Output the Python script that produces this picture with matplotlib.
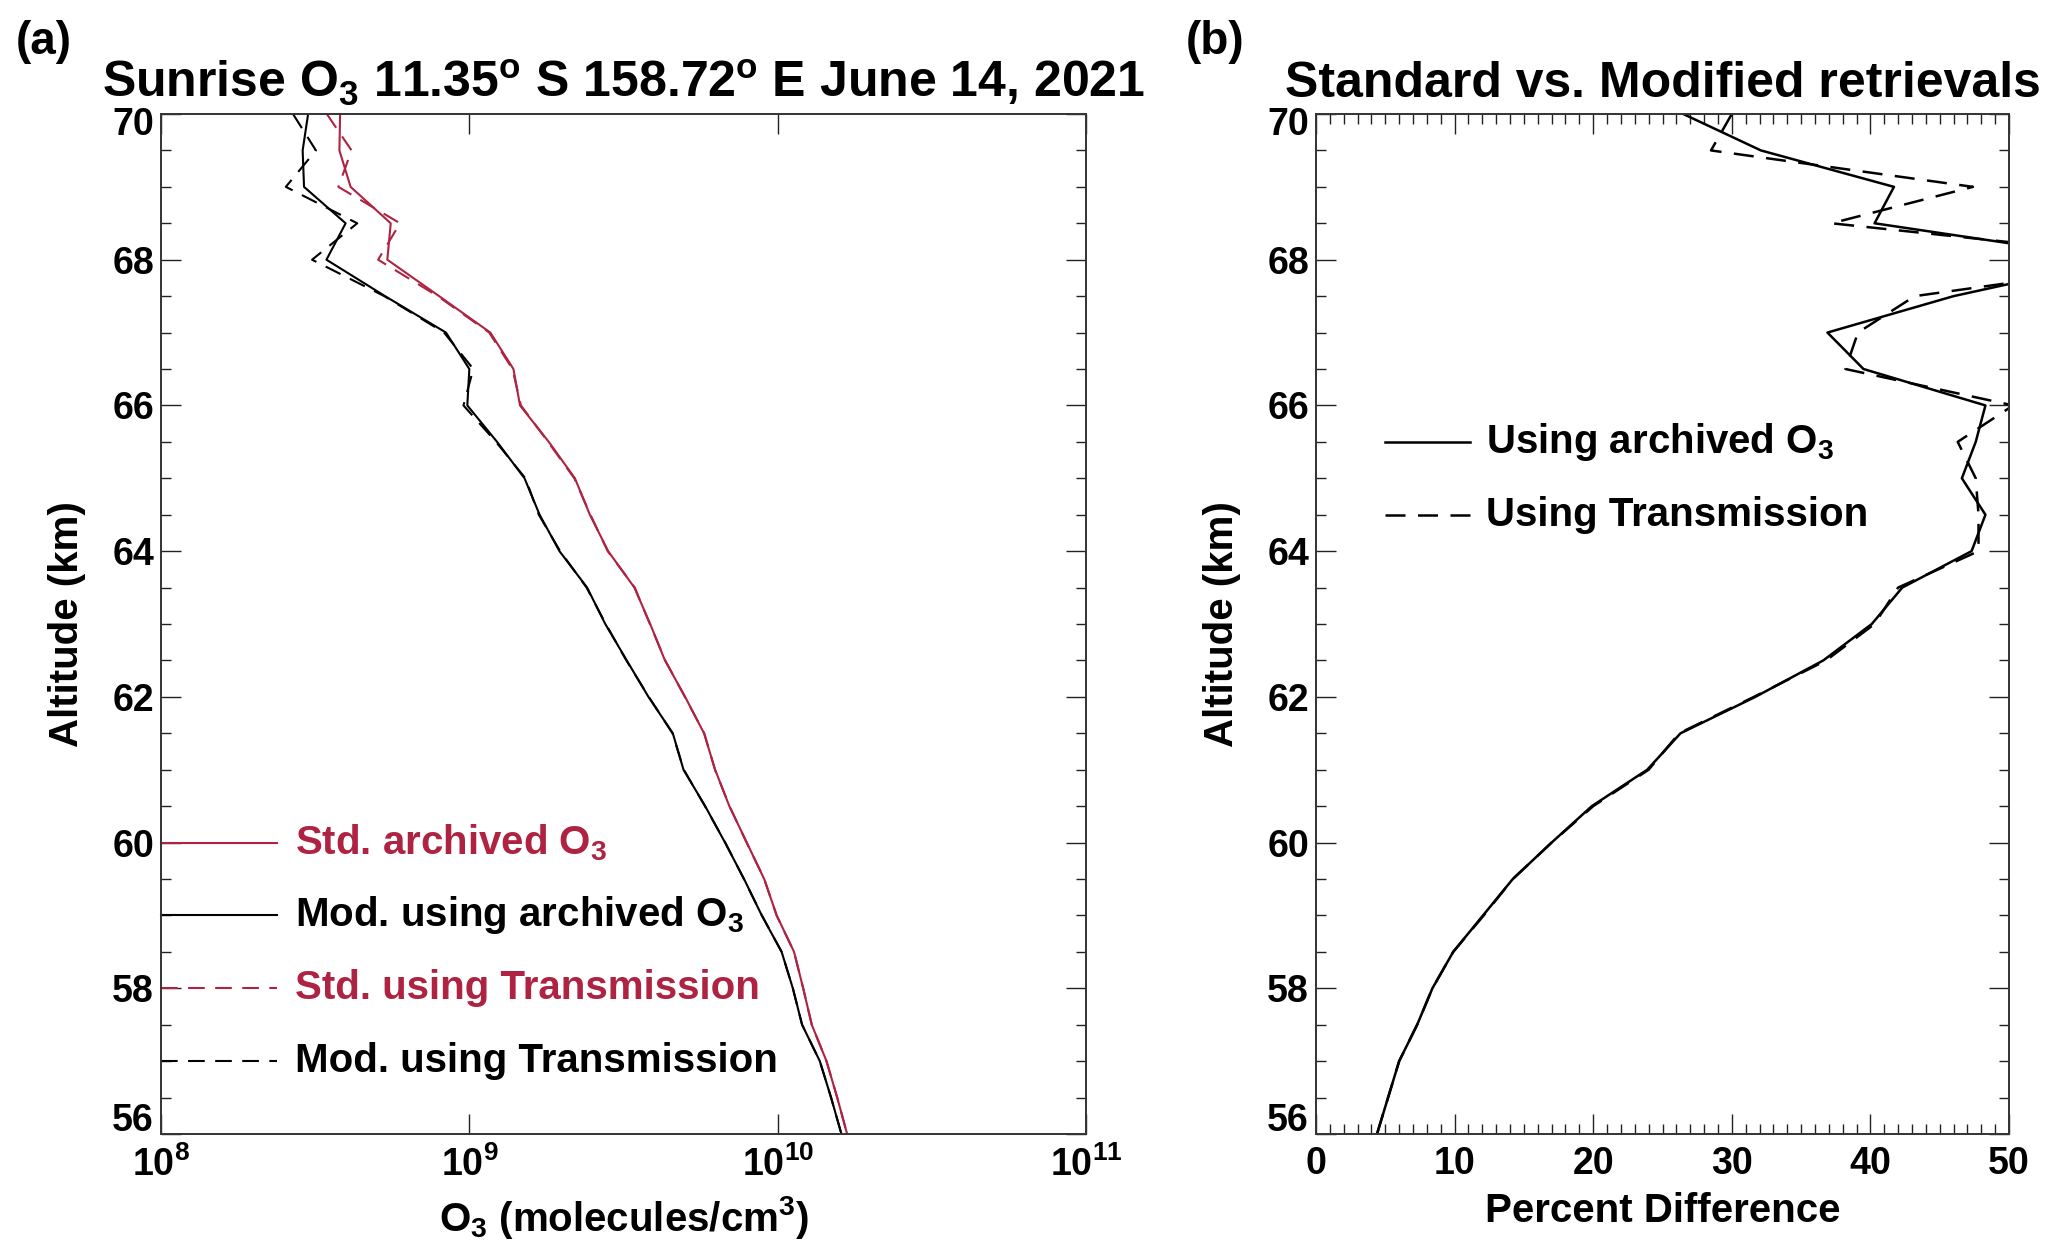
import matplotlib
matplotlib.use("Agg")
import matplotlib.pyplot as plt
import matplotlib.transforms as mtransforms
from matplotlib.ticker import MultipleLocator, FixedLocator, NullLocator, LogFormatterSciNotation

plt.rcParams['font.family'] = ['Liberation Sans', 'DejaVu Sans']
plt.rcParams['font.weight'] = 'bold'
plt.rcParams['axes.titleweight'] = 'bold'
plt.rcParams['axes.labelweight'] = 'bold'
plt.rcParams['mathtext.fontset'] = 'custom'
plt.rcParams['mathtext.rm'] = 'Liberation Sans:bold'
plt.rcParams['mathtext.it'] = 'Liberation Sans:bold'
plt.rcParams['mathtext.bf'] = 'Liberation Sans:bold'

RED = '#ae2242'

# altitude grid (km), top to bottom
alt = [70.0, 69.5, 69.0, 68.5, 68.0, 67.5, 67.0, 66.5, 66.0, 65.5,
       65.0, 64.5, 64.0, 63.5, 63.0, 62.5, 62.0, 61.5, 61.0, 60.5,
       60.0, 59.5, 59.0, 58.5, 58.0, 57.5, 57.0, 56.5, 56.0]
alt_ticks = [56, 58, 60, 62, 64, 66, 68, 70]

# O3 number density, units of 1e9 molecules/cm^3
std_archived = [0.381, 0.379, 0.412, 0.556, 0.542, 0.798, 1.17, 1.39, 1.46, 1.81,
                2.20, 2.46, 2.82, 3.43, 3.86, 4.31, 5.01, 5.77, 6.27, 6.97,
                7.94, 9.04, 9.93, 11.3, 12.1, 12.9, 14.4, 15.6, 16.8]
mod_archived = [0.300, 0.288, 0.291, 0.397, 0.344, 0.533, 0.840, 1.00, 0.985, 1.23,
                1.51, 1.69, 1.96, 2.41, 2.76, 3.24, 3.81, 4.57, 4.95, 5.82,
                6.75, 7.78, 8.88, 10.3, 11.2, 12.0, 13.7, 14.9, 16.1]
std_trans = [0.345, 0.415, 0.376, 0.596, 0.506, 0.790, 1.16, 1.38, 1.47, 1.80,
             2.19, 2.47, 2.81, 3.44, 3.85, 4.32, 5.00, 5.78, 6.26, 6.98,
             7.93, 9.05, 9.92, 11.3, 12.1, 12.9, 14.4, 15.6, 16.8]
mod_trans = [0.268, 0.318, 0.254, 0.433, 0.309, 0.530, 0.828, 1.03, 0.957, 1.22,
             1.52, 1.68, 1.97, 2.40, 2.77, 3.23, 3.82, 4.56, 4.96, 5.81,
             6.76, 7.77, 8.89, 10.3, 11.2, 12.0, 13.7, 14.9, 16.1]

# percent difference standard vs modified
pct_archived = [26.5, 32.1, 41.7, 40.3, 58.0, 46.0, 36.9, 39.5, 48.3, 47.6,
                46.6, 48.3, 47.3, 42.3, 40.1, 36.6, 31.7, 26.3, 23.9, 19.9,
                17.0, 14.2, 12.05, 9.9, 8.4, 7.3, 6.0, 5.2, 4.4]
pct_trans = [30.0, 28.5, 47.4, 37.2, 62.0, 43.2, 39.1, 38.2, 50.3, 46.3,
             47.6, 47.8, 47.8, 42.0, 40.3, 36.8, 31.6, 26.2, 24.0, 20.0,
             17.0, 14.2, 12.1, 9.9, 8.4, 7.3, 6.0, 5.2, 4.4]

legend_a = ['Std. archived O$_3$', 'Mod. using archived O$_3$',
            'Std. using Transmission', 'Mod. using Transmission']
legend_b = ['Using archived O$_3$', 'Using Transmission']

W, H = 2067, 1256
fig = plt.figure(figsize=(W / 100, H / 100), dpi=100)
ax1 = fig.add_axes([161 / W, 122 / H, 925 / W, 1020 / H])
ax2 = fig.add_axes([1316 / W, 122 / H, 693 / W, 1020 / H])

DASH = (0, (8, 5))
TICK = dict(direction='in', width=1.0, labelsize=27, colors='#222222')


def style_axes(ax):
    for s in ax.spines.values():
        s.set_linewidth(1.4)
        s.set_color('#333333')
    ax.tick_params(which='major', length=14.4, **TICK)
    ax.tick_params(which='minor', length=7.2, **TICK)
    ax.tick_params(which='both', top=True, right=True, labelcolor='black')
    ax.tick_params(axis='y', pad=5)
    ax.tick_params(axis='x', pad=9)
    ax.set_ylim(56, 70)
    ax.yaxis.set_major_locator(FixedLocator(alt_ticks))
    ax.yaxis.set_minor_locator(MultipleLocator(0.5))
    ax.set_ylabel('Altitude (km)', fontsize=29, labelpad=19)
    # IDL-like: end labels pulled inside the axis range
    ticks = ax.yaxis.get_major_ticks(len(alt_ticks))
    up = mtransforms.ScaledTranslation(0, 12 / 72, fig.dpi_scale_trans)
    down = mtransforms.ScaledTranslation(0, -5 / 72, fig.dpi_scale_trans)
    ticks[0].label1.set_transform(ticks[0].label1.get_transform() + up)
    ticks[-1].label1.set_transform(ticks[-1].label1.get_transform() + down)


# ---- panel (a) ----
x_std = [v * 1e9 for v in std_archived]
x_mod = [v * 1e9 for v in mod_archived]
x_std_t = [v * 1e9 for v in std_trans]
x_mod_t = [v * 1e9 for v in mod_trans]
ax1.plot(x_std, alt, color=RED, lw=1.5)
ax1.plot(x_mod, alt, color='black', lw=1.5)
ax1.plot(x_std_t, alt, color=RED, lw=1.5, ls=DASH)
ax1.plot(x_mod_t, alt, color='black', lw=1.5, ls=DASH)
ax1.set_xscale('log')
ax1.set_xlim(1e8, 1e11)
ax1.xaxis.set_major_locator(FixedLocator([1e8, 1e9, 1e10, 1e11]))
ax1.xaxis.set_minor_locator(NullLocator())
ax1.xaxis.set_major_formatter(LogFormatterSciNotation())
style_axes(ax1)
ax1.set_xlabel('O$_3$ (molecules/cm$^3$)', fontsize=29, labelpad=7)
ax1.set_title('Sunrise O$_3$ 11.35$^\\mathrm{o}$ S 158.72$^\\mathrm{o}$ E June 14, 2021',
              fontsize=36, pad=12)

tr1 = mtransforms.blended_transform_factory(ax1.transAxes, ax1.transData)
styles_a = [(RED, '-'), ('black', '-'), (RED, DASH), ('black', DASH)]
for i, (lab, (c, ls)) in enumerate(zip(legend_a, styles_a)):
    y = 60 - i
    ax1.plot([0, 0.125], [y, y], color=c, ls=ls, lw=1.5, transform=tr1, clip_on=False)
    ax1.text(0.145, y, lab, color=c, fontsize=29, va='center', transform=tr1)

# ---- panel (b) ----
ax2.plot(pct_archived, alt, color='black', lw=1.8)
ax2.plot(pct_trans, alt, color='black', lw=1.8, ls=DASH)
ax2.set_xlim(0, 50)
ax2.xaxis.set_major_locator(MultipleLocator(10))
ax2.xaxis.set_minor_locator(MultipleLocator(1))
style_axes(ax2)
ax2.set_xlabel('Percent Difference', fontsize=29, labelpad=7)
ax2.set_title('Standard vs. Modified retrievals', fontsize=36, pad=12)

tr2 = mtransforms.blended_transform_factory(ax2.transAxes, ax2.transData)
for i, (lab, ls) in enumerate(zip(legend_b, ['-', DASH])):
    y = 65.5 - i
    ax2.plot([0.1, 0.222], [y, y], color='black', ls=ls, lw=1.8, transform=tr2)
    ax2.text(0.245, y, lab, color='black', fontsize=29, va='center', transform=tr2)

fig.text(16 / W, 1 - 42 / H, '(a)', fontsize=33, va='center', ha='left')
fig.text(1186 / W, 1 - 42 / H, '(b)', fontsize=33, va='center', ha='left')

fig.savefig('out.png', dpi=100, facecolor='white')
